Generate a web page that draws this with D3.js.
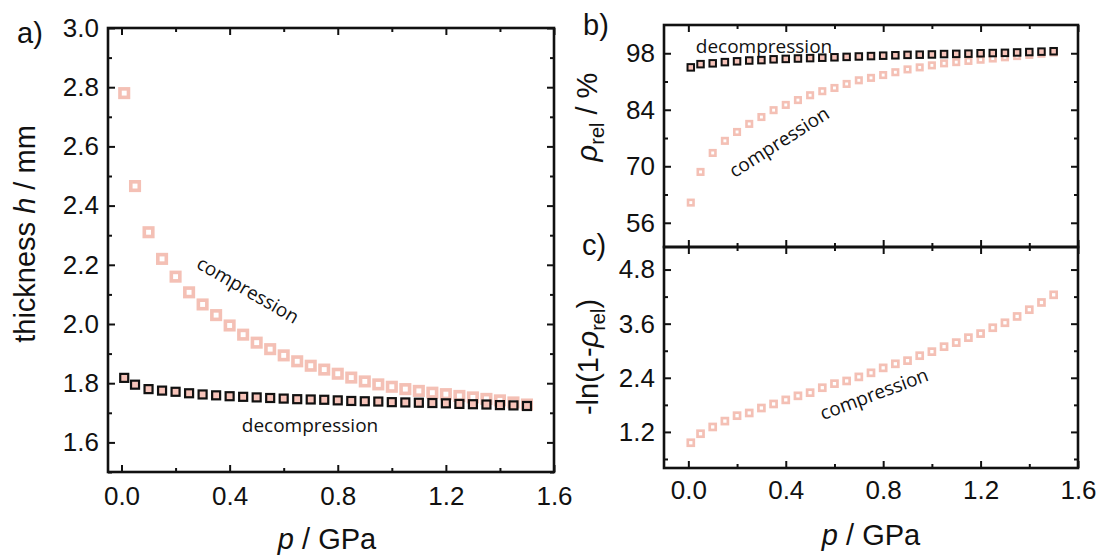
<!DOCTYPE html>
<html>
<head>
<meta charset="utf-8">
<script src="https://cdn.jsdelivr.net/npm/d3@7"></script>
<style>
  body { margin: 0; background: #fff; }
  text { font-family: "Liberation Sans", Arial, sans-serif; fill: #111; }
  .note { font-family: "Open Sans", sans-serif; font-size: 19px; }
</style>
</head>
<body>
<svg id="chart"></svg>
<script>
const W = 1100, H = 556;

// pressure steps (GPa)
const pressure = [0.01, 0.05, 0.10, 0.15, 0.20, 0.25, 0.30, 0.35, 0.40, 0.45, 0.50,
  0.55, 0.60, 0.65, 0.70, 0.75, 0.80, 0.85, 0.90, 0.95, 1.00,
  1.05, 1.10, 1.15, 1.20, 1.25, 1.30, 1.35, 1.40, 1.45, 1.50];

// a) thickness h / mm
const thickComp = [2.78, 2.466, 2.31, 2.22, 2.16, 2.107, 2.066, 2.03, 1.995, 1.964, 1.937,
  1.915, 1.894, 1.874, 1.859, 1.846, 1.832, 1.819, 1.806, 1.796, 1.788,
  1.780, 1.774, 1.768, 1.763, 1.757, 1.752, 1.747, 1.742, 1.735, 1.728];
const thickDecomp = [1.818, 1.795, 1.780, 1.775, 1.771, 1.766, 1.762, 1.759, 1.756, 1.754, 1.752,
  1.750, 1.748, 1.746, 1.745, 1.744, 1.742, 1.740, 1.739, 1.738, 1.736,
  1.735, 1.734, 1.733, 1.732, 1.730, 1.729, 1.728, 1.726, 1.725, 1.723];

// b) relative density / %
const rhoComp = [61.0, 68.6, 73.3, 76.3, 78.5, 80.5, 82.2, 83.9, 85.2, 86.4, 87.6,
  88.6, 89.4, 90.4, 91.3, 91.9, 92.6, 93.3, 94.0, 94.5, 95.0,
  95.5, 95.8, 96.1, 96.4, 96.7, 97.0, 97.3, 97.6, 97.9, 98.2];
const rhoDecomp = [94.5, 95.3, 95.5, 95.8, 96.0, 96.2, 96.3, 96.5, 96.6, 96.7, 96.8,
  96.9, 97.0, 97.1, 97.2, 97.3, 97.4, 97.5, 97.6, 97.65, 97.7,
  97.8, 97.85, 97.9, 98.0, 98.05, 98.1, 98.2, 98.3, 98.4, 98.5];

// c) -ln(1-rho_rel)
const lnComp = [0.96, 1.16, 1.31, 1.44, 1.56, 1.62, 1.73, 1.82, 1.91, 2.0, 2.07,
  2.18, 2.27, 2.33, 2.42, 2.51, 2.62, 2.71, 2.78, 2.89, 2.98,
  3.09, 3.18, 3.29, 3.38, 3.51, 3.62, 3.76, 3.91, 4.07, 4.24];

const xMajor = [0, 0.4, 0.8, 1.2, 1.6];
const xMinor = [0.2, 0.6, 1.0, 1.4];
const aMajor = [1.6, 1.8, 2.0, 2.2, 2.4, 2.6, 2.8, 3.0];
const aMinor = [1.5, 1.7, 1.9, 2.1, 2.3, 2.5, 2.7, 2.9];
const bMajor = [56, 70, 84, 98];
const bMinor = [63, 77, 91];
const cMajor = [1.2, 2.4, 3.6, 4.8];
const cMinor = [0.6, 1.8, 3.0, 4.2];

const pink = "#f4c0b5";
const pinkFill = "#f7c4ba";

const svg = d3.select("#chart").attr("width", W).attr("height", H);

function panel(box, xDom, yDom, yMaj, yMin, yFmt, showX, xPad) {
  const x = d3.scaleLinear().domain(xDom).range([box.l, box.r]);
  const y = d3.scaleLinear().domain(yDom).range([box.b, box.t]);
  const g = svg.append("g");

  const axes = [
    [d3.axisBottom(x).tickValues(xMajor).tickSize(-7).tickPadding(xPad || 15)
      .tickFormat(showX ? d3.format(".1f") : ""), `translate(0,${box.b})`],
    [d3.axisBottom(x).tickValues(xMinor).tickSize(-4).tickFormat(""), `translate(0,${box.b})`],
    [d3.axisTop(x).tickValues(xMajor).tickSize(-7).tickFormat(""), `translate(0,${box.t})`],
    [d3.axisTop(x).tickValues(xMinor).tickSize(-4).tickFormat(""), `translate(0,${box.t})`],
    [d3.axisLeft(y).tickValues(yMaj).tickSize(-7).tickPadding(9).tickFormat(d3.format(yFmt)), `translate(${box.l},0)`],
    [d3.axisLeft(y).tickValues(yMin).tickSize(-4).tickFormat(""), `translate(${box.l},0)`],
    [d3.axisRight(y).tickValues(yMaj).tickSize(-7).tickFormat(""), `translate(${box.r},0)`],
    [d3.axisRight(y).tickValues(yMin).tickSize(-4).tickFormat(""), `translate(${box.r},0)`]
  ];
  axes.forEach(([ax, tr]) => {
    const a = g.append("g").attr("transform", tr).call(ax);
    a.select(".domain").remove();
    a.selectAll("line").attr("stroke", "#111").attr("stroke-width", 2);
    a.selectAll("text").attr("font-size", 26).attr("font-family", "Liberation Sans, Arial, sans-serif").attr("fill", "#111");
  });

  g.append("rect")
    .attr("x", box.l).attr("y", box.t)
    .attr("width", box.r - box.l).attr("height", box.b - box.t)
    .attr("fill", "none").attr("stroke", "#111").attr("stroke-width", 2.6);

  return { x, y, g };
}

function squares(p, ys, size, sw, stroke, fill) {
  p.g.selectAll(null)
    .data(pressure.map((v, i) => [v, ys[i]]))
    .enter()
    .append("rect")
    .attr("x", d => p.x(d[0]) - size / 2)
    .attr("y", d => p.y(d[1]) - size / 2)
    .attr("width", size).attr("height", size)
    .attr("fill", fill).attr("stroke", stroke).attr("stroke-width", sw);
}

// a) thickness
const pa = panel({ l: 108, r: 554, t: 28, b: 472 }, [-0.05, 1.6], [1.5, 3.0], aMajor, aMinor, ".1f", true, 15);
squares(pa, thickComp, 8.5, 3.6, pink, "#fff");
squares(pa, thickDecomp, 8, 2.2, "#111", pinkFill);

// b) relative density
const pb = panel({ l: 664, r: 1078, t: 25, b: 247 }, [-0.1, 1.6], [50, 105], bMajor, bMinor, "d", false);
squares(pb, rhoComp, 5.5, 2.6, pink, "#fff");
squares(pb, rhoDecomp, 6.5, 2, "#111", pinkFill);

// c) -ln(1-rho)
const pc = panel({ l: 664, r: 1078, t: 247, b: 468 }, [-0.1, 1.6], [0.4, 5.3], cMajor, cMinor, ".1f", true, 13);
squares(pc, lnComp, 6, 2.7, pink, "#fff");

// annotations
function note(x, y, angle, txt) {
  svg.append("text").attr("class", "note")
    .attr("transform", `translate(${x},${y}) rotate(${angle})`)
    .attr("text-anchor", "middle").attr("dy", "0.35em")
    .text(txt);
}
note(248, 290, 30, "compression");
svg.append("text").attr("class", "note").attr("x", 310).attr("y", 432)
  .attr("text-anchor", "middle").text("decompression");
svg.append("text").attr("class", "note").attr("x", 764).attr("y", 53)
  .attr("text-anchor", "middle").text("decompression");
note(779, 142, -32.5, "compression");
note(874, 394, -20.6, "compression");

// axis titles
function xTitle(cx, by) {
  const t = svg.append("text").attr("x", cx).attr("y", by)
    .attr("text-anchor", "middle").attr("font-size", 29);
  t.append("tspan").attr("font-style", "italic").text("p");
  t.append("tspan").text(" / GPa");
}
xTitle(327, 549);
xTitle(871, 545);

const ta = svg.append("text").attr("transform", "translate(35,234) rotate(-90)")
  .attr("text-anchor", "middle").attr("font-size", 29);
ta.append("tspan").text("thickness ");
ta.append("tspan").attr("font-style", "italic").text("h");
ta.append("tspan").text(" / mm");

const tb = svg.append("text").attr("transform", "translate(597,117) rotate(-90)")
  .attr("text-anchor", "middle").attr("font-size", 29);
tb.append("tspan").attr("font-style", "italic").text("ρ");
tb.append("tspan").attr("font-size", 20).attr("dy", 7).text("rel");
tb.append("tspan").attr("dy", -7).text(" / %");

const tc = svg.append("text").attr("transform", "translate(598,357) rotate(-90)")
  .attr("text-anchor", "middle").attr("font-size", 29);
tc.append("tspan").text("-ln(1-");
tc.append("tspan").attr("font-style", "italic").text("ρ");
tc.append("tspan").attr("font-size", 20).attr("dy", 7).text("rel");
tc.append("tspan").attr("dy", -7).text(")");

// panel letters
svg.append("text").attr("x", 17).attr("y", 43).attr("font-size", 29).text("a)");
svg.append("text").attr("x", 583).attr("y", 35).attr("font-size", 29).text("b)");
svg.append("text").attr("x", 582).attr("y", 255).attr("font-size", 29).text("c)");
</script>
</body>
</html>
